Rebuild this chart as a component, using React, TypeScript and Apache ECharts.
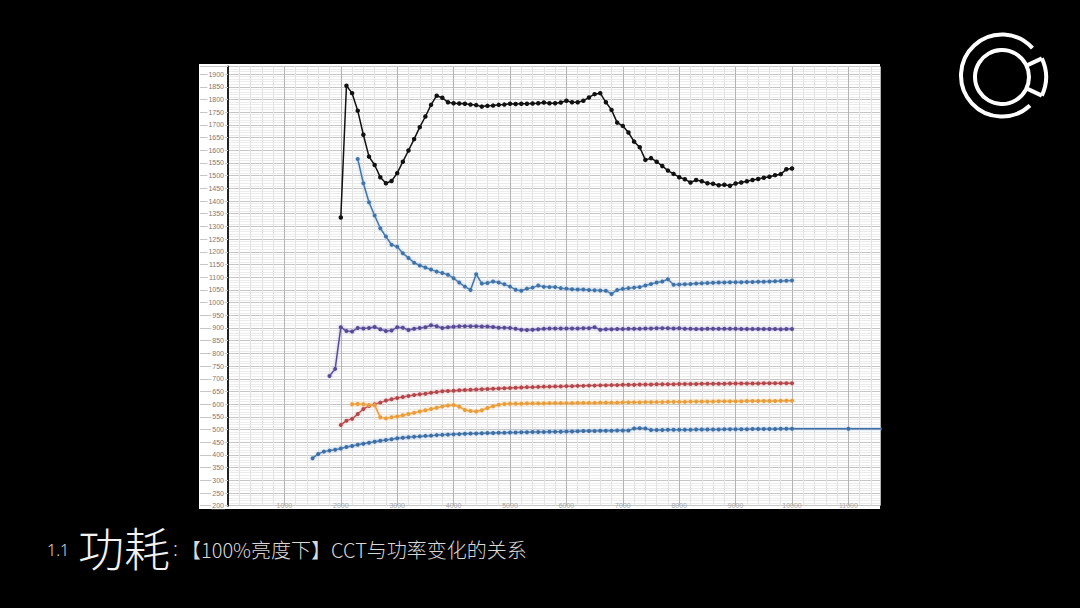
import React, { useEffect, useRef } from "react";
import * as echarts from "echarts";

// CCT (K) grid step between measured points
const CCT_STEP = 100;

// Power readings, each starting at the given CCT
const blackStart = 2000;
const blackValues = [
  1335, 1854, 1825, 1756, 1661, 1575, 1542, 1494, 1470, 1479,
  1510, 1555, 1599, 1644, 1691, 1733, 1779, 1815, 1807, 1789,
  1785, 1784, 1783, 1780, 1778, 1772, 1775, 1776, 1779, 1780,
  1783, 1782, 1783, 1783, 1784, 1785, 1788, 1785, 1785, 1788,
  1795, 1789, 1789, 1795, 1808, 1821, 1825, 1789, 1759, 1709,
  1696, 1670, 1634, 1612, 1562, 1569, 1555, 1538, 1520, 1507,
  1494, 1486, 1473, 1483, 1478, 1470, 1468, 1462, 1464, 1460,
  1469, 1473, 1478, 1483, 1487, 1492, 1496, 1502, 1506, 1525,
  1528,
];

const steelStart = 2300;
const steelValues = [
  1566, 1470, 1395, 1343, 1293, 1260, 1228, 1220, 1194, 1176,
  1157, 1146, 1138, 1130, 1122, 1117, 1110, 1096, 1079, 1063,
  1050, 1112, 1075, 1077, 1083, 1079, 1072, 1063, 1051, 1047,
  1055, 1059, 1067, 1062, 1061, 1061, 1057, 1055, 1053, 1052,
  1052, 1050, 1049, 1048, 1047, 1034, 1050, 1054, 1057, 1059,
  1061, 1067, 1073, 1079, 1083, 1092, 1070, 1071, 1072, 1073,
  1075, 1076, 1077, 1078, 1079, 1079, 1080, 1080, 1080, 1081,
  1081, 1082, 1082, 1083, 1084, 1085, 1086, 1087,
];

const purpleStart = 1800;
const purpleValues = [
  711, 739, 903, 888, 886, 900, 898, 900, 904, 895,
  888, 890, 903, 901, 892, 897, 900, 903, 911, 907,
  900, 903, 905, 907, 907, 907, 907, 906, 906, 904,
  901, 901, 900, 897, 893, 892, 893, 895, 897, 898,
  898, 898, 898, 898, 898, 899, 899, 903, 893, 895,
  895, 896, 896, 897, 897, 897, 898, 898, 899, 899,
  899, 898, 899, 897, 897, 896, 896, 897, 897, 897,
  897, 897, 897, 896, 896, 896, 896, 896, 896, 896,
  895, 896, 896,
];

const redStart = 2000;
const redValues = [
  518, 535, 542, 561, 581, 593, 600, 606, 614, 619,
  624, 628, 632, 636, 639, 641, 645, 648, 651, 652,
  653, 655, 656, 657, 658, 659, 660, 661, 662, 663,
  664, 665, 666, 667, 667, 668, 669, 669, 670, 670,
  671, 671, 672, 672, 673, 673, 674, 674, 675, 675,
  676, 676, 676, 677, 677, 677, 678, 678, 678, 678,
  679, 679, 679, 679, 680, 680, 680, 680, 680, 681,
  681, 681, 681, 681, 681, 682, 682, 682, 682, 682,
  682,
];

const orangeStart = 2200;
const orangeValues = [
  600, 601, 600, 597, 596, 548, 544, 548, 551, 556,
  561, 566, 571, 576, 581, 586, 591, 595, 597, 590,
  577, 573, 571, 576, 585, 592, 598, 601, 602, 602,
  602, 603, 603, 603, 603, 604, 604, 604, 604, 604,
  605, 605, 605, 605, 606, 606, 606, 606, 607, 607,
  607, 607, 608, 608, 608, 608, 609, 609, 609, 609,
  610, 610, 610, 610, 610, 611, 611, 611, 611, 611,
  612, 612, 612, 612, 612, 612, 613, 613, 613,
];

const blueStart = 1500;
const blueValues = [
  387, 404, 413, 417, 420, 425, 431, 435, 440, 444,
  448, 452, 456, 459, 462, 466, 468, 470, 472, 473,
  475, 476, 478, 479, 480, 481, 482, 483, 484, 484,
  485, 486, 486, 487, 487, 488, 488, 489, 489, 490,
  490, 490, 491, 491, 491, 492, 492, 493, 494, 494,
  494, 495, 495, 495, 496, 496, 496, 504, 505, 504,
  498, 498, 498, 499, 499, 499, 499, 499, 500, 500,
  500, 500, 500, 501, 501, 501, 501, 501, 502, 502,
  502, 502, 502, 503, 503, 503,
];
// extra sparse readings beyond 10000 K
const blueExtraCct = [11000, 12000];
const blueExtraValues = [503, 503];

// Axis ticks
const yMin = 200;
const yMax = 1930;
const yInterval = 50;
const xMin = 0;
const xMax = 11560;
const xInterval = 1000;

const titleNumber = "1.1";
const titleMain = "功耗";
const titleSub = "【100%亮度下】CCT与功率变化的关系";

function pairs(start: number, values: number[]) {
  return values.map((v, i) => [start + i * CCT_STEP, v]);
}

function lineSeries(name: string, data: number[][], color: string, halo: string | null, size = 4) {
  const s: any = {
    name,
    type: "line",
    data,
    symbol: "circle",
    symbolSize: size,
    showSymbol: true,
    clip: true,
    lineStyle: { color, width: 1.5 },
    itemStyle: { color },
    z: 3,
  };
  if (halo) {
    s.lineStyle.shadowColor = halo;
    s.lineStyle.shadowBlur = 3;
    s.itemStyle.shadowColor = halo;
    s.itemStyle.shadowBlur = 2;
  }
  return s;
}

export default function App() {
  const ref = useRef<HTMLDivElement>(null);

  useEffect(() => {
    document.body.style.margin = "0";
    document.body.style.background = "#000";
    const chart = echarts.init(ref.current!, null, { renderer: "svg" });

    const cx = 1002;
    const cy = 77;
    const deg = Math.PI / 180;

    const option: any = {
      animation: false,
      backgroundColor: "#000",
      grid: { left: 228, right: 200, top: 66.5, bottom: 102.3, containLabel: false },
      xAxis: {
        type: "value",
        min: xMin,
        max: xMax,
        interval: xInterval,
        axisLine: { show: false },
        axisTick: { show: false },
        axisLabel: {
          color: "#a8a8a8",
          fontSize: 7,
          fontFamily: "Liberation Sans, Arial, sans-serif",
          margin: 0,
          verticalAlign: "middle",
          showMaxLabel: false,
          formatter: (v: number) => (v === 0 || v % xInterval !== 0 ? "" : String(v)),
        },
        splitLine: { show: true, lineStyle: { color: "#b4b4b4", width: 1 } },
        minorTick: { show: true, splitNumber: 5, length: 0 },
        minorSplitLine: { show: true, lineStyle: { color: "#e2e2e2", width: 1 } },
      },
      yAxis: {
        type: "value",
        min: yMin,
        max: yMax,
        interval: yInterval,
        axisLine: { show: true, lineStyle: { color: "#222", width: 2 } },
        axisTick: { show: true, length: 28, lineStyle: { color: "#c6c6c6" } },
        axisLabel: {
          color: "#7a7a7a",
          fontSize: 7,
          fontFamily: "Liberation Sans, Arial, sans-serif",
          margin: 3,
          backgroundColor: "#fff",
          padding: [0, 1],
          formatter: (v: number) => (v % yInterval !== 0 ? "" : String(v)),
        },
        splitLine: { show: true, lineStyle: { color: "#c6c6c6", width: 1 } },
        minorTick: { show: true, splitNumber: 5, length: 0 },
        minorSplitLine: { show: true, lineStyle: { color: "#ececec", width: 1 } },
      },
      series: [
        lineSeries("black", pairs(blackStart, blackValues), "#111111", null, 4.5),
        lineSeries("steel", pairs(steelStart, steelValues), "#3f72a6", "rgba(150,190,230,0.7)"),
        lineSeries("purple", pairs(purpleStart, purpleValues), "#594a93", "rgba(160,150,220,0.7)"),
        lineSeries("red", pairs(redStart, redValues), "#b3464c", "rgba(230,150,150,0.6)"),
        lineSeries("orange", pairs(orangeStart, orangeValues), "#e99d38", "rgba(250,200,130,0.7)"),
        lineSeries(
          "blue",
          pairs(blueStart, blueValues).concat(blueExtraCct.map((c, i) => [c, blueExtraValues[i]])),
          "#3d6ea4",
          "rgba(140,180,225,0.7)"
        ),
      ],
      graphic: [
        {
          type: "rect",
          z: -100,
          silent: true,
          shape: { x: 199, y: 64, width: 681, height: 445 },
          style: { fill: "#ffffff" },
        },
        // logo
        {
          type: "arc",
          shape: { cx, cy: cy - 1.5, r: 41, startAngle: 47 * deg, endAngle: 318 * deg, clockwise: true },
          style: { stroke: "#fff", lineWidth: 4, fill: "none" },
        },
        {
          type: "circle",
          shape: { cx, cy, r: 27 },
          style: { stroke: "#fff", lineWidth: 4, fill: "none" },
        },
        {
          type: "arc",
          shape: { cx, cy, r: 44, startAngle: -25 * deg, endAngle: 25 * deg, clockwise: true },
          style: { stroke: "#fff", lineWidth: 4, fill: "none" },
        },
        {
          type: "line",
          shape: {
            x1: cx + 27 * Math.cos(-25 * deg), y1: cy + 27 * Math.sin(-25 * deg),
            x2: cx + 44 * Math.cos(-25 * deg), y2: cy + 44 * Math.sin(-25 * deg),
          },
          style: { stroke: "#fff", lineWidth: 4 },
        },
        {
          type: "line",
          shape: {
            x1: cx + 27 * Math.cos(25 * deg), y1: cy + 27 * Math.sin(25 * deg),
            x2: cx + 44 * Math.cos(25 * deg), y2: cy + 44 * Math.sin(25 * deg),
          },
          style: { stroke: "#fff", lineWidth: 4 },
        },
        // title
        {
          type: "text",
          x: 47,
          y: 558,
          style: {
            text: titleNumber,
            fill: "#d8d8d8",
            font: "300 16px 'Noto Sans', 'Noto Sans CJK SC', sans-serif",
            textVerticalAlign: "bottom",
          },
        },
        {
          type: "text",
          x: 78,
          y: 569,
          style: {
            text: titleMain,
            fill: "#f2f2f2",
            font: "300 46px 'Noto Sans CJK SC', sans-serif",
            textVerticalAlign: "bottom",
          },
        },
        {
          type: "text",
          x: 173,
          y: 558,
          style: {
            text: ":",
            fill: "#d8d8d8",
            font: "300 20px 'Noto Sans', 'Noto Sans CJK SC', sans-serif",
            textVerticalAlign: "bottom",
          },
        },
        {
          type: "text",
          x: 181,
          y: 559,
          style: {
            text: titleSub,
            fill: "#d8d8d8",
            font: "300 20px 'Noto Sans CJK SC', sans-serif",
            textVerticalAlign: "bottom",
          },
        },
      ],
    };

    chart.setOption(option);
    return () => chart.dispose();
  }, []);

  return (
    <div
      ref={ref}
      style={{ position: "absolute", left: 0, top: 0, width: 1080, height: 608, background: "#000" }}
    />
  );
}
